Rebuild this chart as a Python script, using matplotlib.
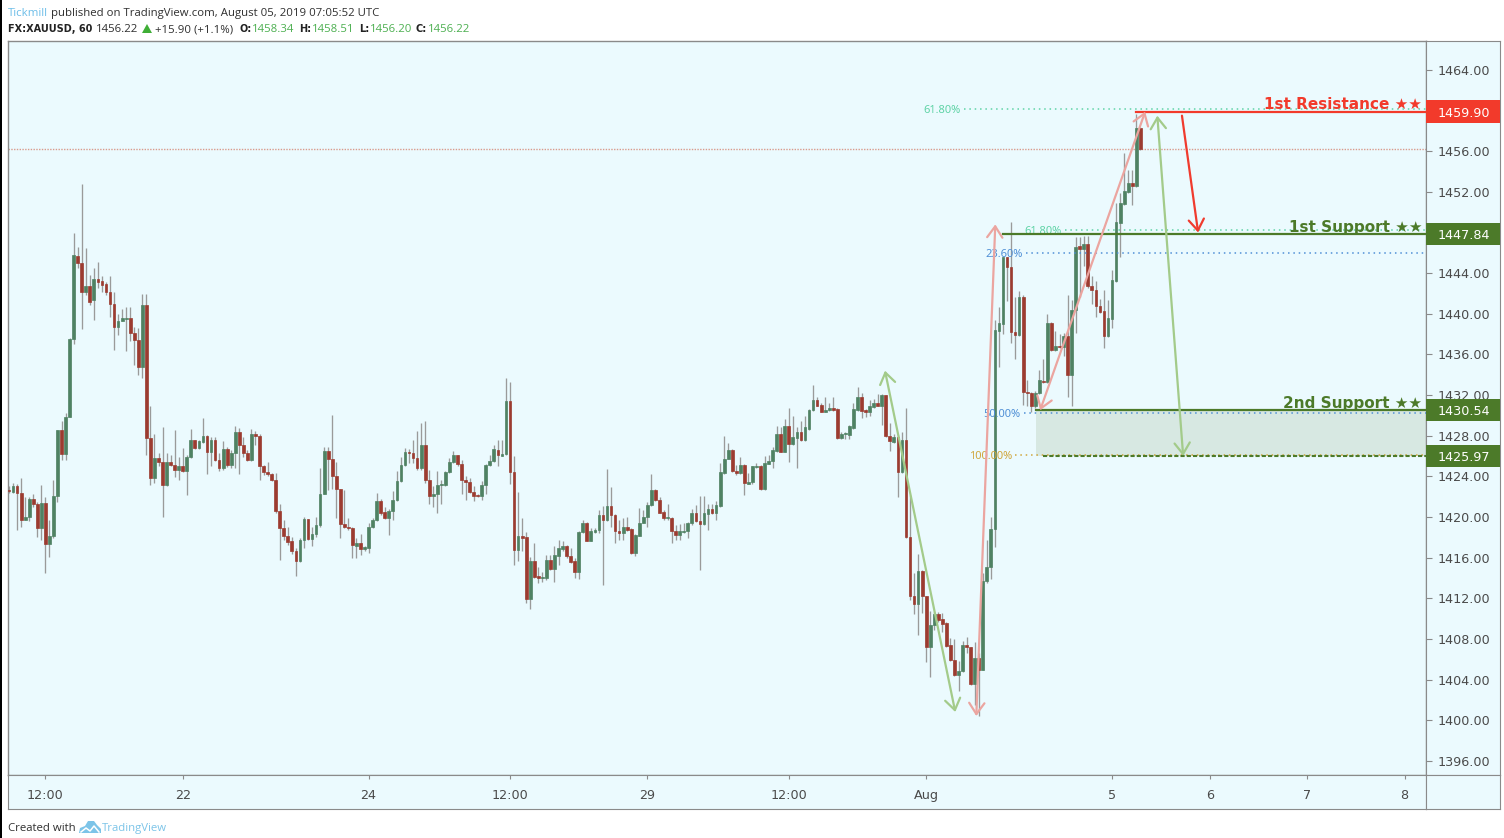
import matplotlib
matplotlib.use("Agg")
import matplotlib.pyplot as plt
from matplotlib.patches import Polygon, Rectangle
import numpy as np

# Hourly candles
opens = [
    1422.7,1422.5,1423.0,1422.4,1419.7,1420.0,1421.8,1421.3,1418.9,1421.4,
    1417.3,1418.1,1422.1,1428.6,1426.2,1429.8,1437.5,1445.7,1445.0,1442.1,
    1442.7,1441.4,1443.4,1443.2,1442.9,1442.1,1441.0,1438.7,1439.3,1439.5,
    1439.6,1438.1,1437.4,1434.8,1440.9,1427.8,1423.8,1425.8,1425.4,1423.1,
    1425.4,1425.1,1424.6,1425.0,1424.5,1425.9,1427.6,1426.8,1427.4,1428.0,
    1426.4,1427.6,1425.6,1424.8,1426.7,1425.1,1426.3,1428.4,1427.1,1426.3,
    1425.6,1428.2,1428.0,1425.0,1424.4,1424.2,1423.6,1420.6,1418.9,1418.1,
    1417.6,1416.6,1415.7,1417.7,1419.8,1417.8,1418.3,1419.2,1422.3,1426.5,
    1425.7,1424.0,1422.8,1419.3,1419.0,1418.9,1417.1,1417.4,1416.8,1416.9,
    1419.0,1419.7,1421.6,1420.5,1419.9,1420.6,1421.7,1423.5,1425.1,1426.4,
    1426.3,1425.8,1424.8,1427.1,1423.6,1422.1,1422.3,1423.1,1423.1,1424.4,
    1425.4,1426.1,1425.2,1423.6,1423.4,1422.5,1422.2,1422.1,1423.1,1425.1,
    1425.5,1426.6,1426.0,1426.2,1431.4,1424.4,1416.7,1418.1,1418.0,1411.9,
    1415.7,1414.2,1414.0,1414.0,1415.8,1414.9,1416.2,1416.8,1417.1,1416.2,
    1415.7,1414.6,1418.5,1419.4,1417.6,1418.5,1418.7,1420.2,1419.7,1421.1,
    1420.2,1418.6,1418.4,1419.0,1418.8,1416.5,1418.1,1419.4,1420.0,1421.2,
    1422.7,1421.7,1420.5,1419.9,1419.9,1418.6,1418.2,1418.5,1418.6,1419.4,
    1420.4,1419.6,1419.3,1420.3,1420.8,1420.4,1421.1,1424.3,1425.7,1426.6,
    1424.5,1424.3,1425.1,1423.2,1423.4,1424.9,1425.0,1422.8,1425.2,1425.5,
    1426.5,1428.2,1426.4,1429.0,1427.2,1427.8,1428.4,1427.6,1428.7,1430.5,
    1431.5,1431.0,1430.3,1430.5,1430.7,1430.6,1427.8,1428.2,1428.1,1428.8,
    1430.5,1431.8,1430.5,1430.3,1430.8,1431.2,1430.9,1432.0,1428.0,1427.4,
    1427.9,1424.4,1427.6,1418.0,1412.2,1411.4,1414.7,1412.2,1407.2,1409.4,
    1410.4,1410.0,1409.6,1407.4,1405.9,1404.4,1404.8,1407.4,1407.2,1403.6,
    1406.1,1404.9,1413.7,1415.1,1418.8,1438.3,1439.0,1445.6,1444.6,1438.2,
    1437.9,1441.7,1432.3,1432.2,1430.9,1432.2,1433.4,1433.3,1439.1,1436.4,
    1436.8,1436.7,1437.8,1434.0,1440.4,1446.7,1446.4,1446.9,1442.7,1442.3,
    1440.8,1440.3,1437.8,1439.5,1443.2,1448.9,1450.8,1452.0,1452.9,1452.6,1458.3,
]
closes = [
    1422.6,1423.0,1422.4,1419.7,1420.0,1421.8,1421.3,1418.9,1421.4,1417.3,
    1418.1,1422.1,1428.6,1426.2,1429.8,1437.5,1445.8,1445.0,1442.1,1442.7,
    1441.2,1443.4,1443.1,1442.8,1442.1,1441.0,1438.7,1439.3,1439.6,1439.6,
    1438.1,1437.4,1434.8,1440.9,1427.8,1423.8,1425.8,1425.4,1423.1,1425.4,
    1425.1,1424.6,1425.0,1424.5,1425.9,1427.6,1426.8,1427.5,1428.0,1426.4,
    1427.6,1425.6,1424.8,1426.7,1425.1,1426.3,1428.4,1427.1,1426.3,1425.6,
    1428.2,1428.0,1425.0,1424.4,1424.2,1423.6,1420.6,1418.9,1418.1,1417.5,
    1416.6,1415.7,1417.7,1419.8,1417.8,1418.3,1419.2,1422.3,1426.5,1425.7,
    1424.0,1422.8,1419.3,1419.0,1418.9,1417.2,1417.4,1416.8,1417.0,1419.0,
    1419.7,1421.6,1420.4,1419.9,1420.6,1421.7,1423.5,1425.1,1426.4,1426.3,
    1425.8,1424.8,1427.1,1423.6,1422.1,1422.3,1423.1,1423.2,1424.4,1425.4,
    1426.1,1425.2,1423.6,1423.4,1422.5,1422.1,1422.1,1423.1,1425.1,1425.5,
    1426.7,1426.1,1426.2,1431.4,1424.4,1416.7,1418.1,1417.9,1411.9,1415.7,
    1414.1,1414.0,1414.1,1415.8,1414.9,1416.3,1416.9,1417.1,1416.2,1415.6,
    1414.6,1418.5,1419.4,1417.6,1418.6,1418.7,1420.2,1419.7,1421.1,1420.2,
    1418.6,1418.4,1419.0,1418.7,1416.5,1418.2,1419.4,1420.0,1421.2,1422.7,
    1421.7,1420.4,1419.9,1420.0,1418.6,1418.2,1418.6,1418.6,1419.4,1420.4,
    1419.6,1419.3,1420.4,1420.8,1420.4,1421.2,1424.4,1425.7,1426.6,1424.5,
    1424.3,1425.1,1423.3,1423.4,1425.0,1425.0,1422.8,1425.3,1425.5,1426.6,
    1428.2,1426.4,1429.0,1427.2,1427.9,1428.4,1427.6,1428.9,1430.5,1431.5,
    1430.9,1430.3,1430.5,1430.7,1430.5,1427.8,1428.2,1428.3,1429.0,1430.6,
    1431.8,1430.4,1430.3,1430.9,1431.2,1430.9,1432.0,1428.0,1427.5,1427.9,
    1424.4,1427.6,1418.0,1412.2,1411.4,1414.7,1412.2,1407.2,1409.4,1410.4,
    1409.9,1409.5,1407.3,1405.9,1404.4,1404.8,1407.4,1407.2,1403.6,1406.1,
    1404.9,1413.7,1415.1,1418.8,1438.4,1439.1,1445.6,1444.6,1438.2,1437.9,
    1441.7,1432.3,1432.2,1430.9,1432.2,1433.5,1433.3,1439.1,1436.4,1436.8,
    1436.7,1437.8,1434.0,1440.4,1446.6,1446.4,1446.9,1442.7,1442.3,1440.8,
    1440.2,1437.8,1439.6,1443.3,1449.0,1450.9,1452.1,1452.9,1452.6,1458.3,1456.2,
]
highs = [
    1423.0,1423.3,1423.2,1423.8,1422.0,1422.0,1422.3,1421.5,1423.1,1422.0,
    1419.7,1423.6,1428.6,1429.4,1430.2,1437.6,1448.0,1446.6,1452.8,1446.5,
    1443.8,1444.5,1445.1,1443.7,1443.1,1443.7,1442.1,1440.0,1440.5,1440.7,
    1440.7,1438.7,1438.6,1441.9,1441.9,1430.9,1428.2,1426.3,1428.9,1426.3,
    1426.1,1428.6,1425.9,1426.8,1426.1,1428.7,1427.6,1427.6,1429.7,1428.1,
    1427.9,1427.9,1426.3,1427.5,1426.9,1426.6,1429.0,1428.8,1427.9,1426.6,
    1428.7,1428.5,1428.2,1425.1,1425.4,1424.3,1424.3,1421.3,1419.7,1419.0,
    1418.0,1416.9,1417.9,1420.0,1419.8,1419.0,1420.0,1424.8,1426.9,1426.9,
    1430.0,1425.4,1422.8,1422.7,1419.9,1419.0,1417.9,1418.3,1417.1,1419.4,
    1419.9,1422.4,1421.8,1421.0,1420.8,1422.6,1424.5,1425.9,1426.8,1426.7,
    1427.6,1428.5,1429.2,1429.4,1424.6,1423.0,1424.5,1423.6,1424.5,1425.8,
    1426.5,1426.1,1425.6,1424.0,1423.8,1423.0,1422.3,1423.5,1425.2,1426.1,
    1427.1,1427.6,1427.6,1433.7,1433.3,1426.0,1422.5,1419.9,1418.5,1416.1,
    1417.4,1415.1,1414.6,1416.3,1416.3,1417.1,1417.7,1417.6,1417.2,1416.9,
    1416.0,1418.6,1419.7,1419.5,1418.9,1418.9,1420.7,1421.1,1424.7,1422.9,
    1420.3,1419.7,1419.9,1420.0,1418.9,1418.3,1420.9,1420.7,1421.5,1424.2,
    1422.8,1422.0,1420.7,1421.3,1420.0,1419.2,1419.3,1419.4,1419.5,1420.8,
    1421.2,1422.1,1422.1,1421.3,1421.3,1421.6,1425.3,1428.0,1427.3,1426.7,
    1425.1,1425.9,1425.2,1424.3,1425.0,1425.3,1425.1,1426.0,1426.1,1426.9,
    1429.0,1428.9,1429.6,1430.7,1429.9,1428.9,1429.4,1429.9,1430.6,1433.0,
    1431.8,1431.2,1431.8,1431.2,1431.8,1430.7,1428.4,1428.4,1429.1,1431.2,
    1432.8,1432.2,1430.6,1431.5,1431.6,1432.1,1432.1,1432.0,1429.2,1428.2,
    1428.1,1428.4,1430.7,1422.2,1414.5,1416.4,1414.8,1412.2,1410.7,1410.6,
    1410.6,1410.5,1409.7,1408.1,1408.0,1405.8,1407.8,1408.2,1407.2,1407.7,
    1406.6,1414.5,1417.7,1420.0,1439.4,1440.7,1445.6,1445.6,1449.0,1441.7,
    1442.2,1441.8,1433.5,1432.3,1432.4,1434.5,1435.5,1440.0,1439.2,1438.3,
    1438.0,1438.1,1441.8,1441.4,1447.6,1447.6,1447.7,1447.7,1443.7,1443.2,
    1441.5,1442.3,1441.4,1444.3,1450.9,1451.9,1455.8,1454.2,1454.2,1459.7,1458.4,
]
lows = [
    1422.4,1422.4,1418.7,1419.0,1419.7,1419.6,1421.0,1418.0,1417.7,1414.5,
    1416.1,1417.9,1421.5,1425.6,1425.6,1429.8,1437.0,1444.5,1438.5,1441.8,
    1440.9,1439.4,1442.5,1442.1,1441.8,1439.7,1436.4,1437.9,1439.3,1436.3,
    1437.3,1435.0,1434.0,1433.7,1426.1,1423.1,1423.3,1425.0,1420.0,1423.0,
    1425.0,1423.9,1423.6,1424.4,1422.2,1425.8,1426.7,1426.7,1427.3,1424.2,
    1425.0,1425.5,1424.5,1424.6,1424.9,1424.8,1424.8,1424.2,1425.9,1425.5,
    1425.5,1427.1,1423.6,1424.1,1424.0,1423.5,1420.4,1415.8,1417.7,1417.2,
    1416.4,1414.2,1415.6,1416.9,1417.7,1417.1,1418.0,1419.0,1422.3,1422.7,
    1422.8,1419.9,1417.9,1418.9,1418.7,1416.0,1416.0,1416.3,1416.6,1416.5,
    1418.9,1419.6,1420.2,1419.8,1418.2,1419.7,1421.6,1423.4,1425.0,1425.3,
    1425.3,1424.6,1424.6,1423.3,1421.3,1421.0,1420.4,1421.3,1423.0,1424.3,
    1425.3,1425.0,1422.3,1421.7,1422.4,1421.6,1422.0,1421.7,1422.3,1425.0,
    1425.4,1425.0,1426.0,1426.1,1423.2,1415.3,1415.7,1416.6,1411.5,1410.9,
    1414.0,1413.5,1413.6,1413.8,1414.8,1413.6,1415.3,1416.6,1416.0,1415.5,
    1414.0,1413.9,1418.4,1417.6,1417.6,1418.4,1418.4,1413.3,1419.6,1419.0,
    1417.4,1417.7,1417.7,1418.6,1416.4,1416.2,1418.1,1419.4,1419.0,1421.1,
    1421.6,1420.4,1419.7,1419.7,1417.4,1417.7,1417.7,1418.4,1417.9,1419.2,
    1419.5,1414.8,1419.2,1418.7,1420.3,1419.7,1421.0,1424.2,1425.7,1424.4,
    1424.1,1424.2,1422.2,1423.2,1423.2,1424.8,1422.7,1422.7,1425.2,1424.8,
    1426.4,1426.4,1426.4,1425.4,1427.1,1424.8,1427.5,1427.5,1428.6,1430.4,
    1430.9,1430.3,1430.3,1430.4,1430.4,1427.7,1427.7,1427.7,1427.7,1428.7,
    1430.4,1429.7,1429.8,1429.9,1430.7,1430.9,1429.1,1427.9,1426.5,1427.3,
    1422.0,1424.3,1417.9,1411.8,1410.4,1408.4,1410.5,1405.7,1404.2,1408.9,
    1409.7,1408.7,1407.2,1405.8,1404.3,1402.9,1404.7,1406.6,1403.5,1401.5,
    1400.4,1404.9,1413.5,1413.9,1417.0,1434.8,1438.0,1441.3,1437.1,1435.5,
    1437.8,1431.0,1430.9,1430.3,1430.7,1432.1,1433.2,1433.2,1436.3,1436.3,
    1436.6,1435.8,1431.8,1430.9,1438.1,1441.7,1444.7,1442.5,1441.0,1439.7,
    1440.1,1436.6,1437.7,1438.6,1443.1,1445.6,1450.7,1451.9,1450.7,1452.5,1456.1,
]

price_ticks = [1396, 1400, 1404, 1408, 1412, 1416, 1420, 1424, 1428, 1432,
               1436, 1440, 1444, 1448, 1452, 1456, 1460, 1464]
hidden_ticks = [1448, 1460]
time_ticks = [9, 43, 89, 124, 158, 193, 227, 273, 297.3, 321.3, 345.4]
time_labels = ["12:00", "22", "24", "12:00", "29", "12:00", "Aug", "5", "6", "7", "8"]

last_price = 1456.22
resistance = 1459.90
support1 = 1447.84
support2 = 1430.54
support2_low = 1425.97

# fib level: price, first bar, text, colour
fib_prices = [1460.16, 1448.2, 1446.0, 1430.2, 1426.1]
fib_starts = [236.3, 261.4, 251.6, 251.2, 249.0]
fib_labels = ["61.80%", "61.80%", "23.60%", "50.00%", "100.00%"]
fib_colors = ["#5fd3a6", "#5fd3a6", "#4f8fd6", "#4f8fd6", "#d0a63c"]

# arrows: bar, price -> bar, price
arrow_x0 = [216.8, 239.4, 255.2, 284.2, 290.3]
arrow_y0 = [1434.4, 1400.4, 1430.5, 1459.5, 1459.5]
arrow_x1 = [234.2, 244.1, 281.2, 290.6, 294.3]
arrow_y1 = [1400.8, 1448.8, 1459.9, 1426.0, 1448.0]
arrow_colors = ["#a3cb8a", "#eba5a0", "#eba5a0", "#a3cb8a", "#f03b2e"]
arrow_styles = ["<->", "<->", "<->", "<->", "->"]

BG = "#ebfafe"
EDGE = "#8a8a8a"
GREEN = "#4c7a29"
RED = "#f23a2b"
UP = "#4f8263"
DOWN = "#9c3b30"
W, H = 1504, 838


def px_axes(left, top, right, bottom):
    return fig.add_axes([left / W, 1 - bottom / H, (right - left) / W, (bottom - top) / H])


fig = plt.figure(figsize=(W / 100, H / 100), dpi=100, facecolor="white")
plt.rcParams["font.family"] = ["DejaVu Sans"]

ax = px_axes(8, 41, 1426, 775)
ax.set_facecolor(BG)
ax.set_xlim(-0.25, 350.7)
ax.set_ylim(1394.6, 1466.85)
ax.set_xticks([])
ax.set_yticks([])
for s in ax.spines.values():
    s.set_color(EDGE)
    s.set_linewidth(1)

# candles
x = np.arange(len(opens))
o = np.array(opens)
c = np.array(closes)
colors = [UP if b >= a else DOWN for a, b in zip(opens, closes)]
ax.vlines(x, lows, highs, color="#9a9a9a", lw=0.95, zorder=2)
ax.bar(x, np.abs(c - o), bottom=np.minimum(o, c), width=0.68, color=colors,
       edgecolor=colors, linewidth=0.5, zorder=3)

# zone, fib levels, support / resistance
ax.add_patch(Rectangle((254.2, support2_low), 350.7 - 254.2, support2 - support2_low,
                       facecolor="#d7e8e2", edgecolor="none", zorder=1))
ax.axhline(last_price, color="#d99a8c", lw=1, ls=(0, (1, 1)), zorder=1)
for p, start, label, col in zip(fib_prices, fib_starts, fib_labels, fib_colors):
    ax.plot([start, 350.7], [p, p], color=col, lw=1.1, ls=(0, (1, 2.5)), zorder=4)
    ax.text(start - 0.8, p, label, color=col, fontsize=8, ha="right", va="center_baseline",
            family="Noto Sans", zorder=5)

ax.plot([279, 350.7], [resistance, resistance], color=RED, lw=1.6, zorder=5)
ax.plot([246, 350.7], [support1, support1], color=GREEN, lw=1.6, zorder=5)
ax.plot([254.2, 350.7], [support2, support2], color=GREEN, lw=1.6, zorder=5)
ax.plot([255.9, 350.7], [support2_low, support2_low], color=GREEN, lw=1.5,
        ls=(0, (2, 1)), zorder=5)

for x0, y0, x1, y1, col, st in zip(arrow_x0, arrow_y0, arrow_x1, arrow_y1, arrow_colors, arrow_styles):
    ax.annotate("", xy=(x1, y1), xytext=(x0, y0), zorder=6,
                arrowprops=dict(arrowstyle=st + ",head_length=0.8,head_width=0.55", color=col,
                                lw=1.6, shrinkA=0, shrinkB=0, mutation_scale=10))

ax.text(349.75, 1460.75, "1st Resistance ★★", color=RED, fontsize=11, weight="bold",
        ha="right", va="center_baseline", zorder=7)
ax.text(349.75, 1448.65, "1st Support ★★", color=GREEN, fontsize=11, weight="bold",
        ha="right", va="center_baseline", zorder=7)
ax.text(349.75, 1431.3, "2nd Support ★★", color=GREEN, fontsize=11, weight="bold",
        ha="right", va="center_baseline", zorder=7)

# price scale
pax = px_axes(1426, 41, 1500, 775)
pax.set_facecolor(BG)
pax.set_xlim(0, 74)
pax.set_ylim(ax.get_ylim())
pax.set_xticks([])
pax.set_yticks(price_ticks)
pax.tick_params(axis="y", direction="in", length=4, color=EDGE, labelleft=False, width=0.8)
for s in pax.spines.values():
    s.set_color(EDGE)
for p in price_ticks:
    if p not in hidden_ticks:
        pax.text(37.5, p, f"{p:.2f}", color="#4a4a4a", fontsize=9.2, ha="center",
                 va="center_baseline", zorder=2)
for p, col in zip([resistance, support1, support2, support2_low], [RED, GREEN, GREEN, GREEN]):
    pax.axhspan(p - 1.1, p + 1.1, color=col, lw=0, zorder=3)
    pax.text(37.5, p, f"{p:.2f}", color="white", fontsize=9.2, ha="center",
             va="center_baseline", zorder=4)

# time scale
tax = px_axes(8, 775, 1426, 809)
tax.set_facecolor(BG)
tax.set_xlim(ax.get_xlim())
tax.set_ylim(0, 1)
tax.set_yticks([])
tax.set_xticks(time_ticks)
tax.xaxis.tick_top()
tax.tick_params(axis="x", direction="in", length=3, color=EDGE, width=0.8, labeltop=False)
for s in tax.spines.values():
    s.set_color(EDGE)
for t, label in zip(time_ticks, time_labels):
    tax.text(t, 0.44, label, color="#4a4a4a", fontsize=9.2, ha="center", va="center_baseline")

cax = px_axes(1426, 775, 1500, 809)
cax.set_facecolor(BG)
cax.set_xticks([])
cax.set_yticks([])
for s in cax.spines.values():
    s.set_color(EDGE)

# header, footer, page strip in pixel coordinates
over = fig.add_axes([0, 0, 1, 1], facecolor="none")
over.set_xlim(0, W)
over.set_ylim(H, 0)
over.axis("off")
over.add_patch(Rectangle((0, 0), 2, H, facecolor="black", edgecolor="none"))

head = dict(fontsize=8.2, va="center_baseline", family="Open Sans")
bold = dict(fontsize=7.0, va="center_baseline", family="DejaVu Sans", weight="bold")
over.text(8, 12, "Tickmill", color="#6cbde8", **head)
over.text(51, 12, "published on TradingView.com, August 05, 2019 07:05:52 UTC", color="#2f2f2f", **head)
over.text(8, 28, "FX:XAUUSD, 60", color="#222222", **bold)
over.text(96, 28, "1456.22", color="#2f2f2f", **head)
over.add_patch(Polygon([(142, 33), (152, 33), (147, 24)], closed=True, facecolor="#3fae36", edgecolor="none"))
over.text(155, 28, "+15.90 (+1.1%)", color="#2f2f2f", **head)
for xl, lab, xv, val in zip([239, 299, 359, 416], ["O:", "H:", "L:", "C:"],
                            [252, 312, 370, 428], ["1458.34", "1458.51", "1456.20", "1456.22"]):
    over.text(xl, 28, lab, color="#222222", **bold)
    over.text(xv, 28, val, color="#4caf50", **head)

over.text(8, 827, "Created with", color="#2f2f2f", **head)
# TradingView cloud mark
over.add_patch(Polygon([(79, 833), (80, 828), (85, 826), (88, 821), (94, 821), (97, 825),
                        (101, 829), (101, 833)],
                       closed=True, facecolor="#7cc4e8", edgecolor="none"))
over.plot([81, 86, 90, 94, 99], [832, 828, 831, 826, 832], color="white", lw=1.1)
over.text(102, 827, "TradingView", color="#7cc4e8", **head)

fig.savefig("out.png", dpi=100)
